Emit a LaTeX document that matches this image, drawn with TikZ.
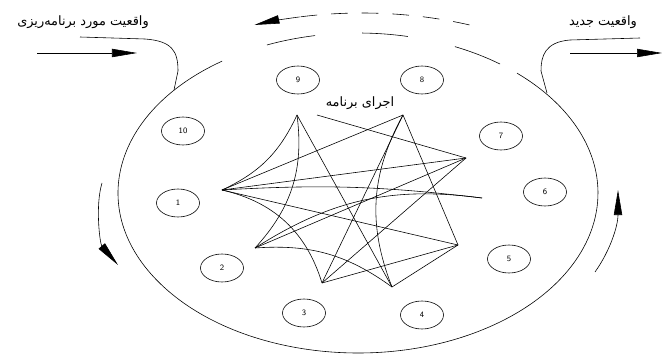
\documentclass[tikz,border=0pt]{standalone}
\usepackage{fontspec}
\newfontfamily\arabicfont[Script=Arabic]{DejaVu Sans}
\TeXXeTstate=1
\usetikzlibrary{shapes.geometric,arrows.meta}
\tikzset{
  num/.style={draw,ellipse,minimum width=1.29cm,minimum height=0.84cm,inner sep=0pt,font=\sffamily\scriptsize},
  fa/.style={font=\arabicfont\fontsize{11}{12}\selectfont,inner sep=1pt},
  tip/.style={-{Triangle[length=0.75cm,width=0.25cm]}},
}
\begin{document}
\begin{tikzpicture}[x=0.03cm,y=0.03cm,line width=0.5pt]
\useasboundingbox (0,0) rectangle (663,356);
\def\cx{358};
\def\cy{163};
\def\ox{362};
\def\oy{163};
\draw (\cx,\cy) ++(124.5:240 and 160) arc[start angle=124.5,end angle=408.5,x radius=240,y radius=160];
\draw (\cx,\cy) ++(100.3:240 and 160) arc[start angle=100.3,end angle=112.3,x radius=240,y radius=160];
\draw (\cx,\cy) ++(78:240 and 160) arc[start angle=78,end angle=89,x radius=240,y radius=160];
\draw (\cx,\cy) ++(53.7:240 and 160) arc[start angle=53.7,end angle=66.2,x radius=240,y radius=160];
\draw[dash pattern=on 0.5cm off 0.42cm] (\ox,\oy) ++(69:300 and 180) arc[start angle=69,end angle=102,x radius=300,y radius=180];
\draw[tip] (\ox,\oy) ++(102:300 and 180) arc[start angle=102,end angle=111,x radius=300,y radius=180];
\node[num] (c1) at (178,153) {1};
\node[num] (c2) at (222,88) {2};
\node[num] (c3) at (304,43) {3};
\node[num] (c4) at (422,41) {4};
\node[num] (c5) at (509,97) {5};
\node[num] (c6) at (545,164) {6};
\node[num] (c7) at (501,220) {7};
\node[num] (c8) at (422,276) {8};
\node[num] (c9) at (298,276) {9};
\node[num] (c10) at (183,225) {10};
\node[fa] (plan) at (83,334) {\beginR واقعیت مورد برنامه‌ریزی\endR};
\node[fa] (new) at (603,334) {\beginR واقعیت جدید\endR};
\node[fa] (run) at (360,253) {\beginR اجرای برنامه\endR};
\coordinate (inA) at (37,303);
\coordinate (inB) at (137,303);
\coordinate (outA) at (570,303);
\coordinate (outB) at (662,303);
\draw[tip] (inA) -- (inB);
\draw[tip] (outA) -- (outB);
\draw (80,319) -- (145,317) .. controls (172,315) and (178,305) .. (178,285) -- (174,266);
\draw (640,318) -- (570,316) .. controls (545,314) and (541,300) .. (541,285) -- (547,263);
\draw[tip] (102,173) .. controls (95,150) and (100,112) .. (118,91);
\draw[tip] (595,84) .. controls (610,105) and (618,130) .. (618,166);
\coordinate (pA) at (222,166);
\coordinate (pB) at (297,241);
\coordinate (pC) at (317,241);
\coordinate (pD) at (403,241);
\coordinate (pE) at (466,198);
\coordinate (pF) at (482,158);
\coordinate (pG) at (458,111);
\coordinate (pH) at (255,108);
\coordinate (pI) at (322,73);
\coordinate (pJ) at (392,69);
\foreach \a/\b in {pA/pD,pA/pE,pA/pG,pB/pJ,pC/pE,pD/pI,pD/pG,pE/pH,pG/pI,pG/pJ,pI/pE}
  \draw (\a) -- (\b);
\draw (pA) to[bend right=20] (pB);
\draw (pA) to[bend left=5] (pF);
\draw (pA) to[bend left=30] (pI);
\draw (pB) to[bend left=25] (pH);
\draw (pD) to[bend right=25] (pJ);
\draw (pH) to[bend left=20] (pF);
\draw (pH) to[bend left=20] (pJ);
\end{tikzpicture}
\end{document}
